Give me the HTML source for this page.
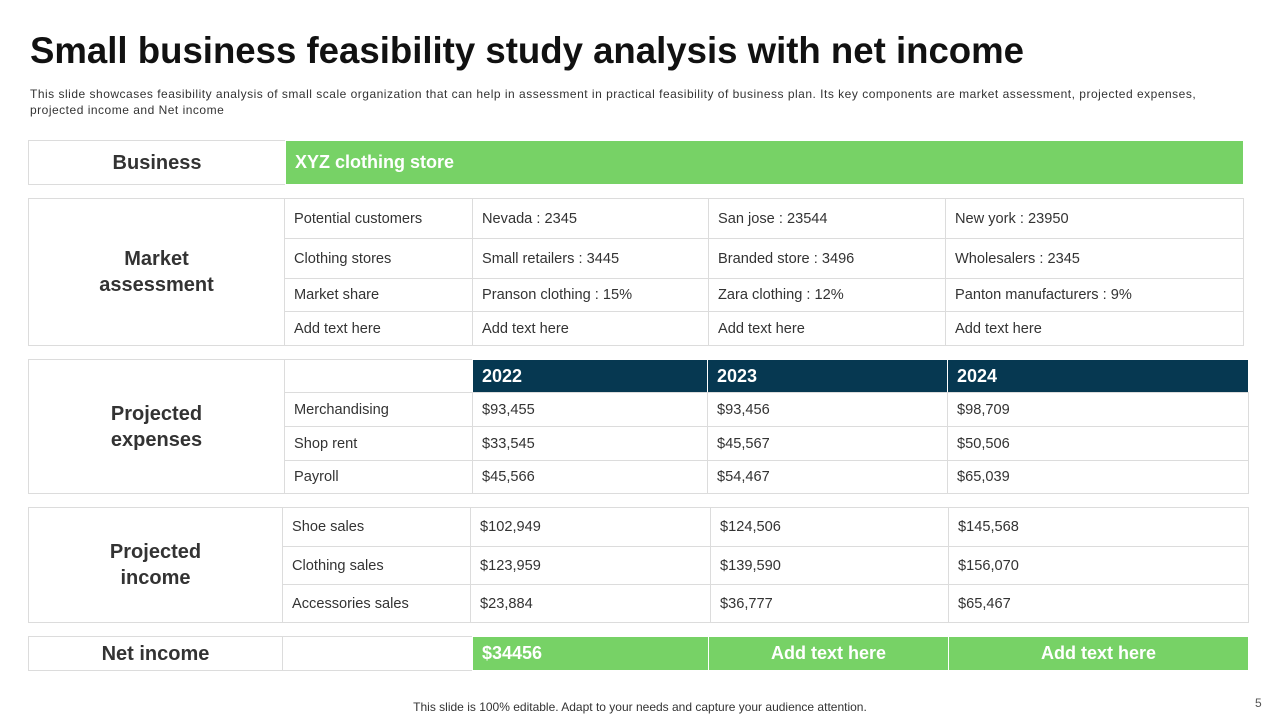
<!DOCTYPE html>
<html><head><meta charset="utf-8"><style>
body{margin:0;width:1280px;height:720px;background:#fff;position:relative;overflow:hidden;font-family:"Liberation Sans",sans-serif;}
.a{position:absolute;box-sizing:border-box;}
.c{position:absolute;box-sizing:border-box;border:1px solid #dcdcdc;display:flex;align-items:center;font-size:14.6px;color:#333;padding-left:9px;background:#fff;}
.lab{justify-content:center;text-align:center;font-weight:bold;font-size:20px;color:#333;padding:0;line-height:26px;}
.hd{background:#063851;color:#fff;font-weight:bold;font-size:18px;border-color:#fff;}
.gr{background:#77d266;color:#fff;font-weight:bold;font-size:18px;border-color:#fff;}
</style></head><body>
<div class="a" style="left:30px;top:30px;font-size:36.6px;font-weight:bold;color:#111;">Small business feasibility study analysis with net income</div>
<div class="a" style="left:30px;top:86px;width:1240px;font-family:'Liberation Sans',sans-serif;font-size:12px;letter-spacing:0.5px;line-height:16px;color:#333;white-space:nowrap;">This slide showcases feasibility analysis of small scale organization that can help in assessment in practical feasibility of business plan. Its key components are market assessment, projected expenses,<br>projected income and Net income</div>
<div id="t"></div>
<div class="a" style="left:0;width:1280px;top:700px;text-align:center;font-size:12px;color:#333;">This slide is 100% editable. Adapt to your needs and capture your audience attention.</div>
<div class="a" style="left:1255px;top:696px;font-size:12px;color:#555;">5</div>
<script>
const marketRows=[["Potential customers","Nevada : 2345","San jose : 23544","New york : 23950"],["Clothing stores","Small retailers : 3445","Branded store : 3496","Wholesalers : 2345"],["Market share","Pranson clothing : 15%","Zara clothing : 12%","Panton manufacturers : 9%"],["Add text here","Add text here","Add text here","Add text here"]];
const years=["2022","2023","2024"];
const expenseRows=[["Merchandising","$93,455","$93,456","$98,709"],["Shop rent","$33,545","$45,567","$50,506"],["Payroll","$45,566","$54,467","$65,039"]];
const incomeRows=[["Shoe sales","$102,949","$124,506","$145,568"],["Clothing sales","$123,959","$139,590","$156,070"],["Accessories sales","$23,884","$36,777","$65,467"]];
const netRow=["$34456","Add text here","Add text here"];
const T=document.getElementById('t');
function cell(x1,y1,x2,y2,txt,cls,name){
  const d=document.createElement('div');
  d.className='c '+(cls||'');
  d.style.left=x1+'px';d.style.top=y1+'px';d.style.width=(x2-x1+1)+'px';d.style.height=(y2-y1+1)+'px';
  d.innerHTML=txt;
  
  
  T.appendChild(d);return d;
}
cell(28,140,285,184,'Business','lab','business-label');
cell(285,140,1243,184,'XYZ clothing store','gr','business-name');
cell(28,198,284,345,'Market<br>assessment','lab','market-assessment-label');
const mY=[198,238,278,311,345],mX=[284,472,708,945,1243];
marketRows.forEach((r,i)=>r.forEach((v,j)=>cell(mX[j],mY[i],mX[j+1],mY[i+1],v,'','market-cell')));
cell(28,359,284,493,'Projected<br>expenses','lab','projected-expenses-label');
const eX=[284,472,707,947,1248],eY=[392,426,460,493];
cell(284,359,472,392,'','','expenses-header-blank');
years.forEach((y,j)=>cell(eX[j+1],359,eX[j+2],392,y,'hd','year-header'));
expenseRows.forEach((r,i)=>r.forEach((v,j)=>cell(eX[j],eY[i],eX[j+1],eY[i+1],v,'','expense-cell')));
cell(28,507,282,622,'Projected<br>income','lab','projected-income-label');
const iX=[282,470,710,948,1248],iY=[507,546,584,622];
incomeRows.forEach((r,i)=>r.forEach((v,j)=>cell(iX[j],iY[i],iX[j+1],iY[i+1],v,'','income-cell')));
cell(28,636,282,670,'Net income','lab','net-income-label');
cell(282,636,472,670,'','','net-income-blank');
const nX=[472,708,948,1248];
netRow.forEach((v,j)=>{const d=cell(nX[j],636,nX[j+1],670,v,'gr','net-income-value');if(j>0){d.style.justifyContent='center';d.style.paddingLeft='0';}});
</script>
</body></html>
